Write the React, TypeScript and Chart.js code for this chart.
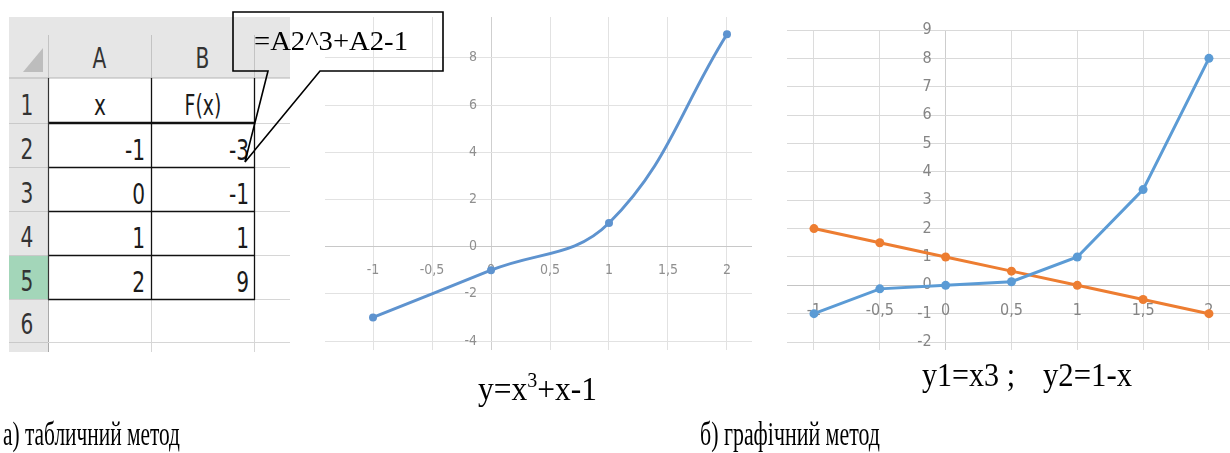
import React, { useEffect, useRef } from "react";
import { Chart, registerables } from "chart.js";

Chart.register(...registerables);

// Spreadsheet: column A holds x, column B holds F(x) = x^3 + x - 1
const xValues = [-1, 0, 1, 2];
const fValues = [-3, -1, 1, 9];
const columnLetters = ["A", "B"];
const rowNumbers = ["1", "2", "3", "4", "5", "6"];
const headerTexts = ["x", "F(x)"];

// Graph (a): y = x^3 + x - 1, axis ticks
const curveXTicks = [-1, -0.5, 0, 0.5, 1, 1.5, 2];
const curveYTicks = [-4, -2, 0, 2, 4, 6, 8];

// Graph (b): y1 = x^3 and y2 = 1 - x
const pairX = [-1, -0.5, 0, 0.5, 1, 1.5, 2];
const cubeY = [-1, -0.125, 0, 0.125, 1, 3.375, 8];
const lineY = [2, 1.5, 1, 0.5, 0, -0.5, -1];
const pairXTicks = [-1, -0.5, 0, 0.5, 1, 1.5, 2];
const pairYTicks = [-2, -1, 0, 1, 2, 3, 4, 5, 6, 7, 8, 9];

const NARROW = "'Liberation Sans Narrow', 'DejaVu Sans Condensed', 'Arial Narrow', sans-serif";
const SERIF = "'Liberation Serif', 'Times New Roman', serif";

const fmt = (v: number) => String(v).replace(".", ",");

type LabelCfg = {
  font: string;
  color: string;
  xTicks: number[];
  yTicks: number[];
  xDy: number;
  yGap: number;
};

// Tick labels sit next to the zero lines, like axes crossing at the origin
function crossLabels(cfg: LabelCfg) {
  return {
    id: "crossLabels",
    beforeDatasetsDraw(chart: any) {
      const { ctx } = chart;
      const xs = chart.scales.x;
      const ys = chart.scales.y;
      const x0 = xs.getPixelForValue(0);
      const y0 = ys.getPixelForValue(0);
      ctx.save();
      ctx.font = cfg.font;
      ctx.fillStyle = cfg.color;
      ctx.textBaseline = "middle";
      ctx.textAlign = "center";
      for (const v of cfg.xTicks) ctx.fillText(fmt(v), xs.getPixelForValue(v), y0 + cfg.xDy);
      ctx.textAlign = "right";
      for (const v of cfg.yTicks) ctx.fillText(fmt(v), x0 - cfg.yGap, ys.getPixelForValue(v));
      ctx.restore();
    },
  };
}

function axis(min: number, max: number, ticks: number[], gridColor: string, zeroColor: string) {
  return {
    type: "linear" as const,
    min,
    max,
    afterBuildTicks: (s: any) => {
      s.ticks = ticks.map((value) => ({ value }));
    },
    ticks: { display: false },
    grid: {
      color: (c: any) => (c.tick && c.tick.value === 0 ? zeroColor : gridColor),
      drawTicks: false,
      lineWidth: 1,
    },
    border: { display: false },
  };
}

function points(xs: number[], ys: number[]) {
  return xs.map((x, i) => ({ x, y: ys[i] }));
}

function CurveChart() {
  const ref = useRef<HTMLCanvasElement>(null);
  useEffect(() => {
    const chart = new Chart(ref.current!, {
      type: "scatter",
      data: {
        datasets: [
          {
            data: points(xValues, fValues),
            showLine: true,
            tension: 0.4,
            borderColor: "#5e93cf",
            backgroundColor: "#5e93cf",
            borderWidth: 3,
            pointRadius: 4,
            pointBorderWidth: 0,
          },
        ],
      },
      options: {
        animation: false,
        responsive: false,
        devicePixelRatio: 1,
        layout: { autoPadding: false, padding: 0 },
        plugins: { legend: { display: false }, tooltip: { enabled: false } },
        events: [],
        scales: {
          x: axis(-1.407, 2.212, curveXTicks, "#e2e2e2", "#cfcfcf"),
          y: axis(-4.38, 9.73, curveYTicks, "#e2e2e2", "#c8c8c8"),
        },
      },
      plugins: [
        crossLabels({
          font: `14px ${NARROW}`,
          color: "#8f8f8f",
          xTicks: curveXTicks,
          yTicks: curveYTicks,
          xDy: 24,
          yGap: 14,
        }),
      ],
    } as any);
    return () => chart.destroy();
  }, []);
  return (
    <canvas
      ref={ref}
      width={427}
      height={333}
      style={{ position: "absolute", left: 325, top: 17, filter: "blur(0.45px)" }}
    />
  );
}

function PairChart() {
  const ref = useRef<HTMLCanvasElement>(null);
  useEffect(() => {
    const chart = new Chart(ref.current!, {
      type: "scatter",
      data: {
        datasets: [
          {
            label: "y1",
            data: points(pairX, cubeY),
            showLine: true,
            borderColor: "#5b9bd5",
            backgroundColor: "#5b9bd5",
            borderWidth: 3,
            pointRadius: 4.5,
            pointBorderWidth: 0,
          },
          {
            label: "y2",
            data: points(pairX, lineY),
            showLine: true,
            borderColor: "#ed7d31",
            backgroundColor: "#ed7d31",
            borderWidth: 3,
            pointRadius: 4.5,
            pointBorderWidth: 0,
          },
        ],
      },
      options: {
        animation: false,
        responsive: false,
        devicePixelRatio: 1,
        layout: { autoPadding: false, padding: { top: 12, left: 0, right: 0, bottom: 0 } },
        plugins: { legend: { display: false }, tooltip: { enabled: false } },
        events: [],
        scales: {
          x: axis(-1.205, 2.16, pairXTicks, "#dcdcdc", "#cdcdcd"),
          y: axis(-2.28, 9, pairYTicks, "#d9d9d9", "#c4c4c4"),
        },
      },
      plugins: [
        crossLabels({
          font: `16px ${NARROW}`,
          color: "#858585",
          xTicks: pairXTicks,
          yTicks: pairYTicks,
          xDy: 26,
          yGap: 14,
        }),
      ],
    } as any);
    return () => chart.destroy();
  }, []);
  return (
    <canvas
      ref={ref}
      width={443}
      height={332}
      style={{ position: "absolute", left: 787, top: 18, filter: "blur(0.3px)" }}
    />
  );
}

// Row boundaries of the worksheet (rows 1..6)
const rowEdges = [78, 123, 167, 211, 255, 299, 342];
const colA = [48, 151];
const colB = [151, 254];

// Condensed worksheet text
function CellText(props: {
  x: number;
  y: number;
  anchor: "start" | "middle" | "end";
  fill?: string;
  squeeze?: number;
  children: React.ReactNode;
}) {
  const k = props.squeeze ?? 0.8;
  return (
    <text
      transform={`translate(${props.x},${props.y}) scale(${k},1)`}
      textAnchor={props.anchor}
      fontFamily={NARROW}
      fontSize={28}
      fill={props.fill ?? "#1a1a1a"}
    >
      {props.children}
    </text>
  );
}

function Sheet() {
  const gray = "#e6e6e6";
  const light = "#d6d6d6";
  return (
    <svg width={300} height={360} style={{ position: "absolute", left: 0, top: 0 }}>
      {/* column header band */}
      <rect x={9} y={17} width={281} height={61} fill={gray} />
      {/* row header column */}
      <rect x={9} y={78} width={39} height={274} fill={gray} />
      <rect x={9} y={255} width={39} height={44} fill="#a3d6b9" />
      <polygon points="23,72 43,72 43,48" fill="#bdbdbd" />
      {[48, 151, 254].map((x) => (
        <line key={x} x1={x + 0.5} y1={35} x2={x + 0.5} y2={78} stroke="#c3c3c3" />
      ))}
      <line x1={9} y1={78} x2={290} y2={78} stroke="#b4b4b4" />
      {rowEdges.slice(1).map((y) => (
        <line key={"rh" + y} x1={9} y1={y + 0.5} x2={48} y2={y + 0.5} stroke="#c9c9c9" />
      ))}
      <line x1={48.5} y1={78} x2={48.5} y2={352} stroke="#a9a9a9" />
      {/* light cell gridlines outside the bordered block */}
      {rowEdges.slice(1).map((y) => (
        <line key={"g" + y} x1={254} y1={y + 0.5} x2={290} y2={y + 0.5} stroke={light} />
      ))}
      <line x1={48} y1={342.5} x2={254} y2={342.5} stroke={light} />
      <line x1={151.5} y1={299} x2={151.5} y2={352} stroke={light} />
      <line x1={254.5} y1={299} x2={254.5} y2={352} stroke={light} />
      {/* black borders around A1:B5 */}
      <line x1={48} y1={123} x2={255} y2={123} stroke="#111" strokeWidth={2.6} />
      {rowEdges.slice(2, 6).map((y) => (
        <line key={"b" + y} x1={48} y1={y + 0.5} x2={255} y2={y + 0.5} stroke="#111" strokeWidth={1.3} />
      ))}
      <line x1={48.5} y1={78} x2={48.5} y2={300} stroke="#333" strokeWidth={1.2} />
      <line x1={151.5} y1={78} x2={151.5} y2={300} stroke="#111" strokeWidth={1.3} />
      <line x1={254.5} y1={78} x2={254.5} y2={300} stroke="#111" strokeWidth={1.3} />
      {/* column letters */}
      {columnLetters.map((c, i) => {
        const col = i === 0 ? colA : colB;
        return (
          <CellText key={c} x={(col[0] + col[1]) / 2} y={68} anchor="middle" fill="#333">
            {c}
          </CellText>
        );
      })}
      {/* row numbers */}
      {rowNumbers.map((r, i) => (
        <CellText key={r} x={27} y={rowEdges[i + 1] - 8} anchor="middle" fill="#333">
          {r}
        </CellText>
      ))}
      {/* header row */}
      <CellText x={100} y={115} anchor="middle">
        {headerTexts[0]}
      </CellText>
      <CellText x={203} y={115} anchor="middle" squeeze={0.75}>
        {headerTexts[1]}
      </CellText>
      {/* values */}
      {xValues.map((v, i) => (
        <CellText key={"a" + i} x={colA[1] - 6} y={rowEdges[i + 2] - 7} anchor="end">
          {String(v)}
        </CellText>
      ))}
      {fValues.map((v, i) => (
        <CellText key={"f" + i} x={colB[1] - 5} y={rowEdges[i + 2] - 7} anchor="end">
          {String(v)}
        </CellText>
      ))}
    </svg>
  );
}

function Overlay() {
  const serif = { fontFamily: SERIF, fill: "#000" } as const;
  return (
    <svg width={1230} height={453} style={{ position: "absolute", left: 0, top: 0, pointerEvents: "none" }}>
      {/* formula callout */}
      <path
        d="M268,71 L233,71 L233,12 L443,12 L443,71 L320,71 L245,162 Z"
        fill="none"
        stroke="#000"
        strokeWidth={1.6}
      />
      <text x={254} y={50} fontSize={27} {...serif} textLength={154} lengthAdjust="spacingAndGlyphs">
        =A2^3+A2-1
      </text>
      {/* captions under the graphs */}
      <text x={478} y={400} fontSize={33} {...serif} textLength={119} lengthAdjust="spacingAndGlyphs">
        y=x<tspan fontSize={21} dy={-13}>3</tspan>
        <tspan dy={13}>+x-1</tspan>
      </text>
      <text x={922} y={386} fontSize={33} {...serif} textLength={93} lengthAdjust="spacingAndGlyphs">
        y1=x3 ;
      </text>
      <text x={1043} y={386} fontSize={33} {...serif} textLength={89} lengthAdjust="spacingAndGlyphs">
        y2=1-x
      </text>
      <text x={3} y={445} fontSize={34} {...serif} textLength={177} lengthAdjust="spacingAndGlyphs">
        а) табличний метод
      </text>
      <text x={700} y={445} fontSize={34} {...serif} textLength={180} lengthAdjust="spacingAndGlyphs">
        б) графічний метод
      </text>
    </svg>
  );
}

export default function App() {
  return (
    <div
      style={{
        position: "absolute",
        left: 0,
        top: 0,
        width: 1230,
        height: 453,
        background: "#fff",
        overflow: "hidden",
      }}
    >
      <Sheet />
      <CurveChart />
      <PairChart />
      <Overlay />
    </div>
  );
}
